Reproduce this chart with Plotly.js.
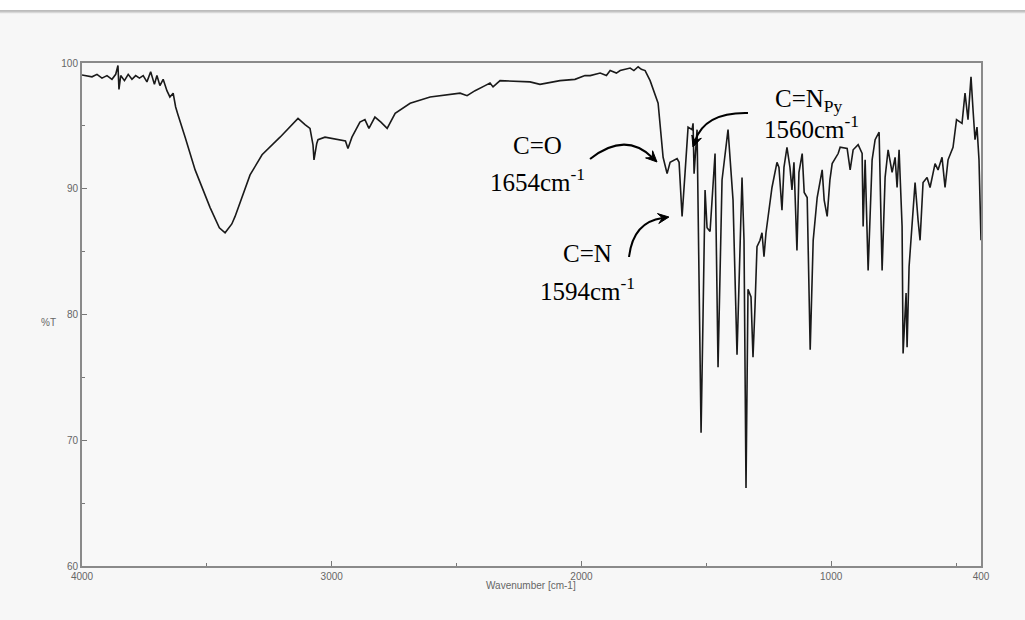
<!DOCTYPE html>
<html>
<head>
<meta charset="utf-8">
<script src="https://cdn.plot.ly/plotly-3.0.1.min.js"></script>
<style>
  html, body { margin: 0; padding: 0; }
  body {
    width: 1025px; height: 620px; overflow: hidden;
    background: linear-gradient(to bottom, #ffffff 0px, #ffffff 10px, #b8b8b8 10px, #c8c8c8 12px, #e8e8e8 13px, #f7f7f7 14px, #f7f7f7 100%);
  }
  #chart { width: 1025px; height: 620px; }
</style>
</head>
<body>
<div id="chart"></div>
<script>
// Wavenumber (cm-1) and transmittance (%T)
const wavenumber = [
  4000, 3980, 3960, 3940, 3920, 3900, 3880, 3865, 3856, 3852, 3845, 3830, 3815, 3800, 3785, 3770, 3755, 3740, 3725, 3710,
  3700, 3688, 3675, 3660, 3648, 3635, 3625, 3616, 3600, 3587, 3547, 3487, 3450, 3427, 3400, 3387, 3327, 3279, 3207, 3150,
  3135, 3107, 3087, 3075, 3071, 3060, 3055, 3027, 2967, 2945, 2935, 2919, 2887, 2867, 2851, 2827, 2803, 2778, 2746, 2686,
  2606, 2486, 2458, 2426, 2386, 2366, 2354, 2326, 2206, 2166, 2086, 2026, 1986, 1965, 1925, 1900, 1885, 1860, 1845, 1820,
  1805, 1790, 1773, 1760, 1745, 1725, 1713, 1693, 1673, 1657, 1645, 1617, 1609, 1597, 1585, 1573, 1557, 1553, 1549, 1537,
  1529, 1521, 1513, 1505, 1497, 1485, 1465, 1453, 1437, 1413, 1393, 1377, 1357, 1349, 1341, 1333, 1321, 1313, 1305, 1297,
  1285, 1277, 1269, 1261, 1237, 1217, 1209, 1197, 1189, 1177, 1165, 1157, 1149, 1137, 1129, 1116, 1108, 1096, 1084, 1072,
  1056, 1036, 1028, 1016, 1005, 996, 972, 964, 936, 924, 912, 892, 876, 872, 864, 852, 836, 824, 808, 796,
  784, 772, 756, 744, 736, 728, 716, 712, 700, 696, 688, 676, 664, 652, 644, 632, 616, 604, 584, 572,
  556, 544, 532, 512, 498, 476, 464, 452, 440, 432, 424, 416, 408, 400
];
const transmittance = [
  99.05, 99.0, 98.9, 99.1, 98.8, 99.0, 98.7, 99.1, 99.8, 97.9, 99.0, 98.6, 99.1, 98.7, 99.0, 98.8, 99.0, 98.5, 99.3, 98.3,
  99.0, 98.2, 98.7, 97.8, 97.3, 97.6, 96.5, 95.9, 95.0, 94.1, 91.5, 88.5, 86.9, 86.5, 87.2, 87.8, 91.1, 92.7, 94.1, 95.3,
  95.6, 95.1, 94.8, 93.5, 92.3, 93.6, 93.9, 94.1, 93.9, 93.8, 93.2, 94.1, 95.3, 95.5, 94.8, 95.7, 95.3, 94.8, 96.0, 96.8,
  97.3, 97.6, 97.4, 97.8, 98.2, 98.4, 98.1, 98.6, 98.5, 98.3, 98.6, 98.7, 99.0, 99.0, 99.2, 99.0, 99.4, 99.2, 99.4, 99.5,
  99.6, 99.4, 99.7, 99.5, 99.4, 98.6, 97.9, 96.8, 92.5, 91.2, 92.1, 92.4, 92.1, 87.8, 91.3, 94.9, 94.7, 95.2, 91.2, 94.7,
  82.7, 70.6, 80.0, 89.9, 86.9, 86.6, 92.8, 75.8, 90.7, 94.7, 89.1, 76.8, 90.9, 85.9, 66.2, 82.0, 81.4, 76.6, 80.6, 85.4,
  85.9, 86.5, 84.6, 86.5, 90.1, 92.1, 91.7, 88.3, 91.7, 93.3, 91.7, 89.9, 92.1, 85.1, 91.3, 92.8, 89.7, 89.3, 77.2, 85.9,
  89.3, 91.5, 89.1, 87.8, 90.7, 92.0, 92.8, 93.3, 93.2, 91.5, 93.1, 93.5, 92.8, 87.0, 92.3, 83.5, 92.3, 93.9, 94.5, 83.5,
  90.9, 93.1, 91.3, 92.5, 90.1, 93.1, 87.0, 76.9, 81.7, 77.4, 83.8, 87.3, 90.5, 87.5, 85.9, 90.5, 90.9, 90.1, 92.0, 91.5,
  92.5, 90.1, 92.3, 93.3, 95.5, 95.2, 97.6, 95.5, 98.9, 96.3, 93.9, 94.9, 92.3, 85.9
];
const xTickVals = [4000, 3000, 2000, 1000, 400];
const xTickText = ['4000', '3000', '2000', '1000', '400'];
const yTickVals = [60, 70, 80, 90, 100];

// Plot frame in pixels
const L = 82, R = 981, T = 63, B = 566;
const W = 1025, H = 620;
const px = x => (x - L) / (R - L);
const py = y => (B - y) / (B - T);
const P = (x, y) => px(x).toFixed(4) + ',' + py(y).toFixed(4);

const serif = { family: '"Liberation Serif", "Times New Roman", serif', size: 25, color: '#000' };
const small = { family: '"Liberation Sans", Arial, sans-serif', size: 10, color: '#666' };

const trace = {
  x: wavenumber, y: transmittance, type: 'scatter', mode: 'lines',
  line: { color: '#1a1a1a', width: 1.6 }, hoverinfo: 'skip'
};

// curved arrow: quadratic curve plus a filled triangular head pointing along the end tangent
function arrow(x0, y0, cx, cy, x1, y1) {
  const dx = x1 - cx, dy = y1 - cy, n = Math.hypot(dx, dy);
  const ux = dx / n, uy = dy / n;
  const len = 11, hw = 5;
  const bx = x1 - len * ux, by = y1 - len * uy;
  const lx = bx - hw * uy, ly = by + hw * ux;
  const rx = bx + hw * uy, ry = by - hw * ux;
  const mx = x1 - 0.6 * len * ux, my = y1 - 0.6 * len * uy;
  return [
    { type: 'path', xref: 'paper', yref: 'paper',
      path: 'M ' + P(x0, y0) + ' Q ' + P(cx, cy) + ' ' + P(mx, my),
      line: { color: '#000', width: 2 } },
    { type: 'path', xref: 'paper', yref: 'paper',
      path: 'M ' + P(x1, y1) + ' L ' + P(lx, ly) + ' L ' + P(mx, my) + ' L ' + P(rx, ry) + ' Z',
      fillcolor: '#000', line: { color: '#000', width: 1 } }
  ];
}
function label(text, x, y) {
  return {
    xref: 'paper', yref: 'paper', x: px(x), y: py(y), text: text,
    showarrow: false, font: serif, xanchor: 'center', yanchor: 'middle'
  };
}

const layout = {
  width: W, height: H,
  margin: { l: L, r: W - R, t: T, b: H - B, pad: 0 },
  paper_bgcolor: 'rgba(0,0,0,0)',
  plot_bgcolor: '#f8f8f8',
  showlegend: false,
  xaxis: {
    range: [4000, 400], tickvals: xTickVals, ticktext: xTickText,
    ticks: 'inside', ticklen: 5, tickcolor: '#777', tickwidth: 1,
    minor: { tickvals: [3500, 2500, 1500, 500], ticks: 'inside', ticklen: 3, tickcolor: '#777' },
    showgrid: false, zeroline: false, showline: true, linecolor: '#8a8a8a', linewidth: 2, mirror: true,
    tickfont: small
  },
  yaxis: {
    range: [60, 100], tickvals: yTickVals,
    ticks: 'inside', ticklen: 5, tickcolor: '#777', tickwidth: 1,
    minor: { dtick: 5, ticks: 'inside', ticklen: 3, tickcolor: '#777' },
    showgrid: false, zeroline: false, showline: true, linecolor: '#8a8a8a', linewidth: 2, mirror: true,
    tickfont: small
  },
  shapes: [].concat(
    arrow(590, 159, 625, 131, 657, 162),
    arrow(629, 257, 633, 222, 669, 217),
    arrow(748, 113, 705, 112, 693, 147)
  ),
  annotations: [
    label('C=O', 537, 145),
    label('1654cm<sup>-1</sup>', 537, 180),
    label('C=N', 587, 253),
    label('1594cm<sup>-1</sup>', 587, 289),
    label('C=N<sub>Py</sub>', 809, 100),
    label('1560cm<sup>-1</sup>', 811, 127),
    { xref: 'paper', yref: 'paper', x: px(48), y: py(322), text: '%T', showarrow: false,
      font: small, xanchor: 'center', yanchor: 'middle' },
    { xref: 'paper', yref: 'paper', x: px(531), y: py(585), text: 'Wavenumber [cm-1]', showarrow: false,
      font: small, xanchor: 'center', yanchor: 'middle' }
  ]
};

Plotly.newPlot('chart', [trace], layout, { displayModeBar: false });
</script>
</body>
</html>
